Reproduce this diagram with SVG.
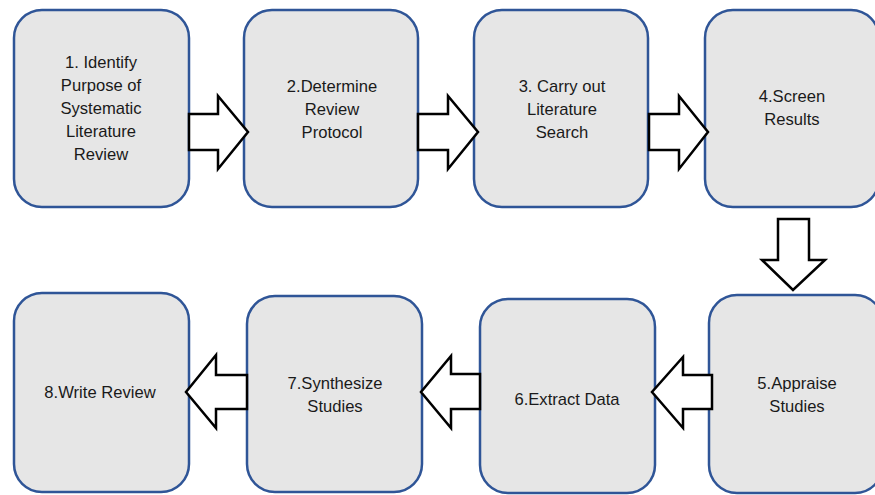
<svg xmlns="http://www.w3.org/2000/svg" width="875" height="495" viewBox="0 0 875 495">
  <style>
    .box { fill: #e6e6e6; stroke: #2f5597; stroke-width: 2.5; }
    .lbl { font-family: "Liberation Sans", Arial, sans-serif; font-size: 16.6px; fill: #1a1a1a; text-anchor: middle; }
    .arrow { fill: #ffffff; stroke: #000000; stroke-width: 2.5; stroke-linejoin: miter; }
  </style>
  <rect width="875" height="495" fill="#ffffff"/>

  <!-- top row -->
  <g id="step1">
    <rect class="box" x="14" y="10" width="175" height="197" rx="28"/>
    <text class="lbl" x="101" y="68">1. Identify</text>
    <text class="lbl" x="101" y="91">Purpose of</text>
    <text class="lbl" x="101" y="114">Systematic</text>
    <text class="lbl" x="101" y="137">Literature</text>
    <text class="lbl" x="101" y="160">Review</text>
  </g>
  <g id="step2">
    <rect class="box" x="244" y="10" width="174" height="197" rx="28"/>
    <text class="lbl" x="332" y="92">2.Determine</text>
    <text class="lbl" x="332" y="115">Review</text>
    <text class="lbl" x="332" y="138">Protocol</text>
  </g>
  <g id="step3">
    <rect class="box" x="474" y="10" width="174" height="197" rx="28"/>
    <text class="lbl" x="562" y="92">3. Carry out</text>
    <text class="lbl" x="562" y="115">Literature</text>
    <text class="lbl" x="562" y="138">Search</text>
  </g>
  <g id="step4">
    <rect class="box" x="705" y="10" width="174" height="197" rx="28"/>
    <text class="lbl" x="792" y="102">4.Screen</text>
    <text class="lbl" x="792" y="125">Results</text>
  </g>

  <!-- bottom row -->
  <g id="step5">
    <rect class="box" x="709" y="295" width="174" height="198" rx="28"/>
    <text class="lbl" x="797" y="389">5.Appraise</text>
    <text class="lbl" x="797" y="412">Studies</text>
  </g>
  <g id="step6">
    <rect class="box" x="480" y="299" width="175" height="194" rx="28"/>
    <text class="lbl" x="567" y="405">6.Extract Data</text>
  </g>
  <g id="step7">
    <rect class="box" x="247" y="296" width="175" height="196" rx="28"/>
    <text class="lbl" x="335" y="389">7.Synthesize</text>
    <text class="lbl" x="335" y="412">Studies</text>
  </g>
  <g id="step8">
    <rect class="box" x="14" y="293" width="175" height="199" rx="28"/>
    <text class="lbl" x="100" y="398">8.Write Review</text>
  </g>

  <!-- block arrows -->
  <g id="connectors">
    <polygon class="arrow" points="189,114 218,114 218,96 248,132 218,169 218,150 189,150"/>
    <polygon class="arrow" points="418,114 448,114 448,96 478,132 448,169 448,150 418,150"/>
    <polygon class="arrow" points="649,114 679,114 679,96 708,132 679,169 679,150 649,150"/>
    <polygon class="arrow" points="778,219 809,219 809,260 825,260 793,290 762,260 778,260"/>
    <polygon class="arrow" points="712,375 683,375 683,357 652,392 683,428 683,409 712,409"/>
    <polygon class="arrow" points="480,374 451,374 451,356 421,392 451,428 451,409 480,409"/>
    <polygon class="arrow" points="247,375 216,375 216,355 186,392 216,428 216,409 247,409"/>
  </g>
</svg>
